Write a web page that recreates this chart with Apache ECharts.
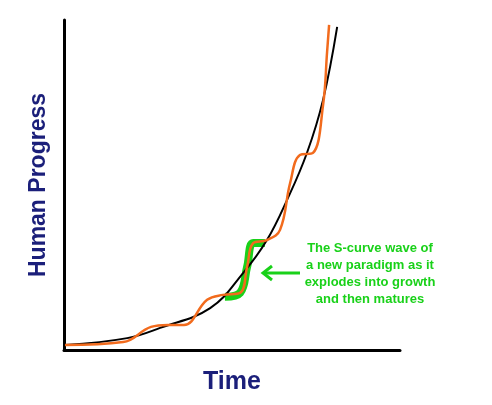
<!DOCTYPE html><html><head><meta charset="utf-8"><script src="https://cdn.jsdelivr.net/npm/echarts@6/dist/echarts.min.js"></script></head><body style="margin:0;background:#fff"><div id="c" style="width:492px;height:405px"></div><script>
const trend=[[0.3,1.5],[18.8,3.6],[28.6,6.7],[43.5,12.7],[53.3,23.3],[60.4,33.3],[66.4,45.5],[72.3,59.7],[77.1,75.8],[81.3,97.9]];
const waves=[[0.3,1.5],[17.6,2.4],[25.9,7.0],[30.9,7.6],[35.7,7.6],[42.6,15.2],[47.3,16.7],[52.4,17.3],[54.5,25.2],[56.3,32.4],[60.4,33.3],[64.3,36.4],[67.3,50.6],[70.2,59.1],[74.1,59.7],[77.1,74.2],[78.3,90.3],[78.9,98.5]];
const sCurve=[[47.9,16.1],[52.4,17.3],[54.5,25.2],[56.3,32.4],[59.8,32.4]];
const annotation=['The S-curve wave of','a new paradigm as it','explodes into growth','and then matures'];
const chart=echarts.init(document.getElementById('c'));
const g='#19d119';
chart.setOption({animation:false,
grid:{left:64,right:92,top:20,bottom:55},
xAxis:{type:'value',min:0,max:100,axisLine:{lineStyle:{color:'#000',width:3}},axisTick:{show:false},axisLabel:{show:false},splitLine:{show:false},
 name:'Time',nameLocation:'middle',nameGap:20,nameTextStyle:{color:'#1b1f7a',fontSize:25,fontWeight:'bold',fontFamily:'Liberation Sans'}},
yAxis:{type:'value',min:0,max:100,axisLine:{show:true,lineStyle:{color:'#000',width:3}},axisTick:{show:false},axisLabel:{show:false},splitLine:{show:false},
 name:'Human Progress',nameLocation:'middle',nameGap:14,nameTextStyle:{color:'#1b1f7a',fontSize:23,fontWeight:'bold',fontFamily:'Liberation Sans'}},
series:[
{type:'line',data:sCurve,smooth:0.4,symbol:'none',lineStyle:{color:g,width:8},z:1},
{type:'line',data:trend,smooth:0.4,symbol:'none',lineStyle:{color:'#000',width:2},z:2},
{type:'line',data:waves,smooth:0.4,symbol:'none',lineStyle:{color:'#f26b1d',width:2.5},z:3}
],
graphic:[
{type:'line',shape:{x1:300,y1:273,x2:264,y2:273},style:{stroke:g,lineWidth:3}},
{type:'polyline',shape:{points:[[272,266],[263,273],[272,280]]},style:{stroke:g,lineWidth:3,fill:null}},
...annotation.map((t,i)=>({type:'text',style:{text:t,x:370,y:248+i*17,align:'center',verticalAlign:'middle',fill:g,font:'bold 13px "Liberation Sans"'}}))
]});
</script></body></html>
